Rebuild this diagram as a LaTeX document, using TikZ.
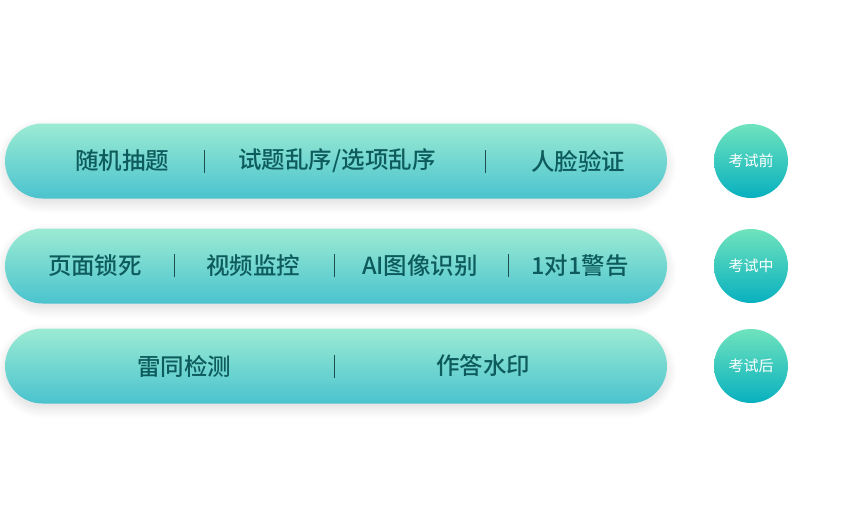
\documentclass[tikz,border=0pt]{standalone}
\usepackage{fontspec}
\newfontfamily\cjk{Noto Sans CJK SC}
\newfontfamily\cjkm{Noto Sans CJK SC Medium}
\usetikzlibrary{shadows.blur}
\definecolor{bartop}{HTML}{9CEBD3}
\definecolor{barbot}{HTML}{4AC3CE}
\definecolor{ctop}{HTML}{6FE3BD}
\definecolor{cbot}{HTML}{08B0BF}
\definecolor{txt}{HTML}{0D5B5C}
\definecolor{sepc}{HTML}{1E4F4F}
\tikzset{
  bar/.style={rectangle, rounded corners=37.5pt, minimum width=662pt, minimum height=75pt, inner sep=0pt,
    top color=bartop, bottom color=barbot, draw=none,
    blur shadow={shadow xshift=0pt, shadow yshift=-5pt, shadow blur radius=10pt, shadow opacity=14, shadow blur steps=14}},
  badge/.style={circle, minimum size=74pt, inner sep=0pt, top color=ctop, bottom color=cbot, draw=none,
    font=\cjk\fontsize{15pt}{15pt}\selectfont, text=white},
  item/.style={font=\cjkm\fontsize{23.5pt}{23.5pt}\selectfont, text=txt, inner sep=0pt},
  sepline/.style={draw=sepc, line width=0.8pt}
}
\begin{document}
\begin{tikzpicture}[x=1pt,y=-1pt]
\useasboundingbox (0,0) rectangle (855,525);
% bars
\node[bar] (bar1) at (336,161) {};
\node[bar] (bar2) at (336,266) {};
\node[bar] (bar3) at (336,366) {};
% badges
\node[badge] (c1) at (751,161) {考试前};
\node[badge] (c2) at (751,266) {考试中};
\node[badge] (c3) at (751,366) {考试后};
% row 1
\node[item] (a1) at (122,161) {随机抽题};
\node[item] (a2) at (337,161) {试题乱序/选项乱序};
\node[item] (a3) at (578,161) {人脸验证};
\coordinate (s1t) at (204,150); \coordinate (s1b) at (204,173);
\coordinate (s2t) at (485,150); \coordinate (s2b) at (485,173);
\draw[sepline] (s1t) -- (s1b);
\draw[sepline] (s2t) -- (s2b);
% row 2
\node[item] (b1) at (95,266) {页面锁死};
\node[item] (b2) at (253,266) {视频监控};
\node[item] (b3) at (420,266) {AI图像识别};
\node[item] (b4) at (580,266) {1对1警告};
\coordinate (t1t) at (174,254); \coordinate (t1b) at (174,277);
\coordinate (t2t) at (334,254); \coordinate (t2b) at (334,277);
\coordinate (t3t) at (508,254); \coordinate (t3b) at (508,277);
\draw[sepline] (t1t) -- (t1b);
\draw[sepline] (t2t) -- (t2b);
\draw[sepline] (t3t) -- (t3b);
% row 3
\node[item] (d1) at (184,366) {雷同检测};
\node[item] (d2) at (483,366) {作答水印};
\coordinate (u1t) at (334,355); \coordinate (u1b) at (334,378);
\draw[sepline] (u1t) -- (u1b);
\end{tikzpicture}
\end{document}
